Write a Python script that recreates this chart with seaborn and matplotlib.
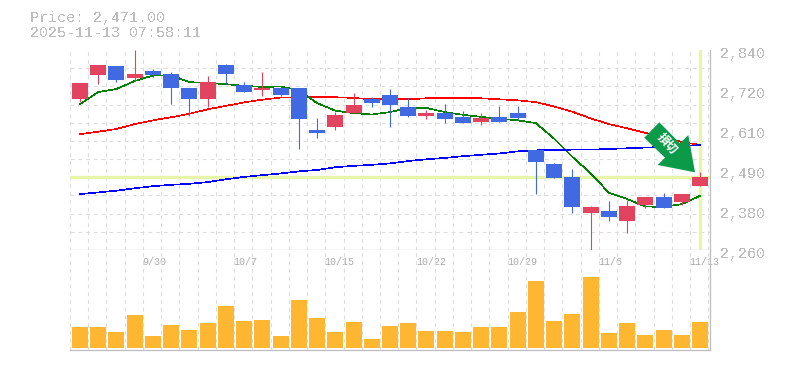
import numpy as np
import pandas as pd
import matplotlib
matplotlib.use("Agg")
import matplotlib.pyplot as plt
import seaborn as sns
from matplotlib.patches import Polygon
from matplotlib.transforms import ScaledTranslation

opens = [2698,2768,2794,2759,2779,2770,2730,2698,2797,2739,2724,2730,2730,2608,2617,2657,2698,2710,2675,2649,2657,2646,2631,2646,2657,2550,2509,2472,2367,2373,2344,2391,2414,2399,2446]
highs = [2744,2797,2794,2840,2785,2776,2730,2765,2799,2747,2776,2730,2730,2643,2660,2715,2704,2727,2701,2666,2683,2663,2657,2678,2678,2550,2512,2495,2388,2402,2405,2414,2425,2422,2486]
lows = [2689,2741,2747,2750,2762,2683,2649,2675,2741,2718,2707,2707,2553,2585,2608,2657,2675,2617,2646,2640,2628,2628,2622,2631,2637,2422,2469,2367,2260,2344,2309,2382,2382,2391,2446]
closes = [2744,2797,2753,2770,2768,2730,2698,2747,2770,2718,2730,2710,2640,2599,2652,2681,2686,2681,2649,2657,2640,2628,2643,2631,2643,2515,2469,2385,2385,2356,2388,2414,2382,2422,2471]
ma_short = [2683,2718,2727,2750,2766,2766,2747,2744,2741,2736,2733,2734,2724,2686,2664,2657,2653,2660,2672,2672,2660,2652,2646,2641,2636,2628,2583,2530,2483,2426,2408,2386,2385,2393,2417]
ma_mid = [2596,2603,2611,2625,2636,2645,2655,2668,2678,2688,2696,2702,2703,2703,2703,2701,2697,2697,2697,2700,2700,2700,2700,2697,2694,2689,2676,2661,2642,2625,2613,2600,2588,2573,2565]
ma_long = [2422,2427,2432,2439,2445,2449,2452,2457,2465,2472,2477,2482,2488,2492,2500,2504,2507,2511,2518,2523,2527,2532,2536,2540,2546,2549,2550,2551,2551,2553,2555,2557,2559,2562,2564]
volume = [21,21,16,33,12,23,18,25,42,27,28,12,48,30,16,26,9,22,25,17,17,16,21,21,36,67,27,34,71,15,25,13,18,13,26]

date_pos = [4, 9, 14, 19, 24, 29, 34]
date_labels = ["9/30", "10/7", "10/15", "10/22", "10/29", "11/6", "11/13"]
price_ticks = [2840, 2724, 2608, 2492, 2376, 2260]
price_labels = ["2,840", "2,720", "2,610", "2,490", "2,380", "2,260"]
last_price = 2471

RED = "#e2445f"
BLUE = "#4169e1"
GRAY = "#bdbdbd"
GRID = "#dddddd"
HILITE = "#e6f5a8"
W, H = 785, 370

sns.set_theme(style="white")
plt.rcParams["font.family"] = ["Liberation Mono", "DejaVu Sans Mono"]
plt.rcParams["text.antialiased"] = False

df = pd.DataFrame({"day": range(len(closes)), "open": opens, "high": highs, "low": lows,
                   "close": closes, "vol": volume})
df["up"] = df["close"] >= df["open"]
df["color"] = df["up"].map({True: RED, False: BLUE})

fig = plt.figure(figsize=(W / 100, H / 100), dpi=100)
ax = fig.add_axes([70 / W, 1 - 250 / H, 640 / W, 200 / H])
ax2 = fig.add_axes([70 / W, 1 - 350 / H, 640 / W, 100 / H])

xlim = (-10 / 18.235, 630 / 18.235)
grid_x = np.arange(36) + xlim[0]

# moving averages under the candles
ax.axhline(last_price, color=HILITE, lw=2.4, zorder=1.5)
ax.axvline(34, ymin=0.01, color=HILITE, lw=2.4, zorder=1.5)
for vals, col in [(ma_mid, "#ff0000"), (ma_short, "#008000"), (ma_long, "#0000ff")]:
    line_ax = sns.lineplot(x=df["day"], y=vals, color=col, linewidth=0.45, errorbar=None, ax=ax,
                           zorder=2)
    line_ax.lines[-1].set_antialiased(False)

body_low = df[["open", "close"]].min(axis=1)
body_h = (df["close"] - df["open"]).abs()
ax.vlines(df["day"], df["low"], df["high"], colors=df["color"], lw=0.8, zorder=3)
ax.bar(df["day"], body_h, bottom=body_low, width=16 / 18.235, color=df["color"],
       edgecolor="none", linewidth=0, zorder=3.5, antialiased=False)

ax.set_xlim(*xlim)
ax.set_ylim(2260, 2840)
ax.set_xticks(grid_x, minor=True)
ax.set_yticks(np.linspace(2260, 2840, 12), minor=True)
ax.grid(which="minor", color=GRID, lw=0.8, ls=(0, (3.5, 3.5)))
ax.set_axisbelow(True)
ax.set_xticks([])
ax.set_yticks(price_ticks)
ax.set_yticklabels(price_labels)
ax.yaxis.tick_right()
ax.tick_params(axis="y", which="major", length=0, pad=7, labelsize=10.8, labelcolor=GRAY)
ax.tick_params(which="minor", length=0)
shift = ScaledTranslation(0, -3 / 100, fig.dpi_scale_trans)
for lab in ax.get_yticklabels():
    lab.set_transform(lab.get_transform() + shift)
ax.set(xlabel=None, ylabel=None)

sns.barplot(data=df, x="day", y="vol", native_scale=True, color="#ffb732", saturation=1,
            width=16 / 18.235, edgecolor="none", linewidth=0, ax=ax2, zorder=3)
ax2.set_xlim(*xlim)
ax2.set_ylim(-2, 98)
ax2.set_xticks(grid_x, minor=True)
ax2.grid(which="minor", axis="x", color=GRID, lw=0.8, ls=(0, (3.5, 3.5)))
ax2.set_axisbelow(True)
ax2.set_yticks([])
ax2.set_xticks(date_pos)
ax2.set_xticklabels(date_labels)
ax2.tick_params(axis="x", which="major", length=0, labelsize=7.2, labelcolor="#aaaaaa",
                labelbottom=False, labeltop=True, top=False, pad=-12.5)
ax2.tick_params(which="minor", length=0)
ax2.set(xlabel=None, ylabel=None)
shift_x = ScaledTranslation(-10.5 / 100, 0, fig.dpi_scale_trans)
for lab in ax2.get_xticklabels():
    lab.set_ha("left")
    lab.set_antialiased(True)
    lab.set_transform(lab.get_transform() + shift_x)

for a in (ax, ax2):
    for side in ("left", "top"):
        a.spines[side].set_visible(False)
    for side in ("right", "bottom"):
        a.spines[side].set_color(GRAY)
        a.spines[side].set_linewidth(0.9)
        a.spines[side].set_visible(True)

fig.text(30 / W, 1 - 18 / H, "Price: 2,471.00", color=GRAY, fontsize=10.8, va="center")
fig.text(30 / W, 1 - 33 / H, "2025-11-13 07:58:11", color=GRAY, fontsize=10.8, va="center")

# signal arrow
arrow_px = [(659.3, 122.3), (680, 143.3), (688.3, 135), (695, 172.3), (657.7, 165), (665, 157.7), (644.3, 137.7)]
arrow = [(x / W, 1 - y / H) for x, y in arrow_px]
fig.add_artist(Polygon(arrow, closed=True, transform=fig.transFigure, color="#0a9a48", lw=0, zorder=5))
fig.text(667 / W, 1 - 144 / H, "損切", color="white", fontsize=8.5, fontweight="bold",
         family=["Noto Sans CJK JP", "DejaVu Sans"], rotation=-48, ha="center", va="center",
         rotation_mode="anchor", zorder=6, antialiased=True)

fig.savefig("out.png", dpi=100)
